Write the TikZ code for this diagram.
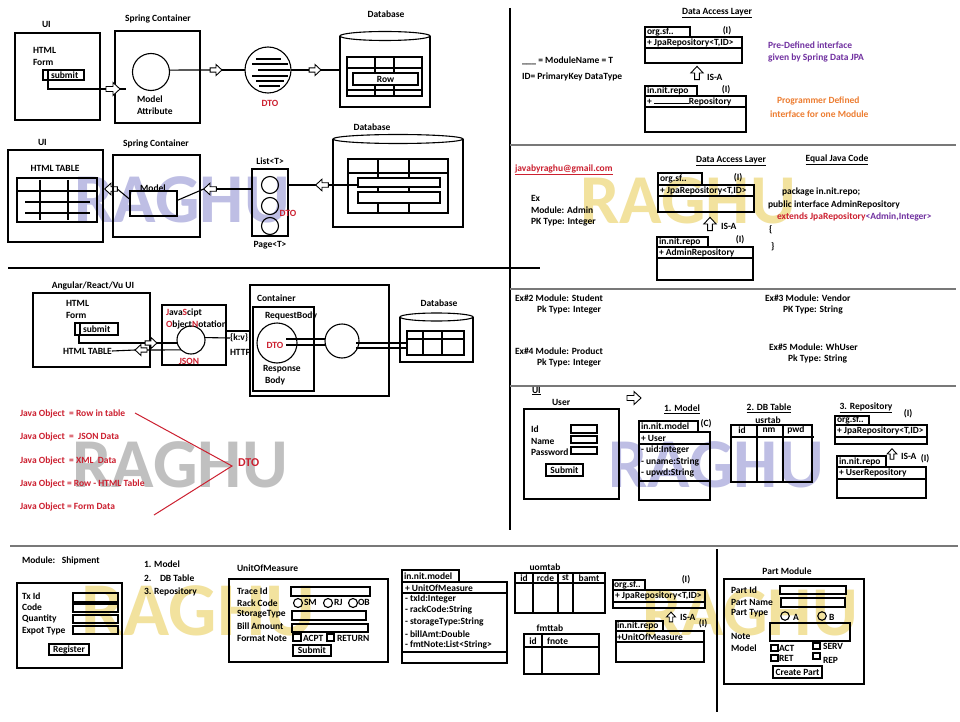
\documentclass[tikz,border=0pt]{standalone}
\usepackage{fontspec}
\setmainfont{Carlito}
\usetikzlibrary{calc}
\definecolor{wmpurple}{RGB}{190,190,228}
\definecolor{wmyellow}{RGB}{242,226,158}
\definecolor{wmgray}{RGB}{192,192,192}
\definecolor{txtred}{RGB}{204,32,48}
\definecolor{txtpurple}{RGB}{112,48,160}
\definecolor{txtorange}{RGB}{237,125,49}
\definecolor{sepgray}{RGB}{120,120,120}
\tikzset{
  every node/.style={font=\bfseries\fontsize{9.5}{11}\selectfont, inner sep=0pt, outer sep=0pt},
  tl/.style={anchor=west},
  tc/.style={anchor=center},
  rtxt/.style={text=txtred},
  wm/.style={font=\bfseries\fontsize{70}{70}\selectfont, anchor=base},
  box/.style={draw, line width=1.1pt},
  ln/.style={line width=1.1pt},
  sepl/.style={draw=sepgray, line width=1.4pt},
  circ/.style={circle, draw, line width=1.1pt, minimum size=#1},
  rnode/.style 2 args={draw, line width=1.1pt, minimum width=#1, minimum height=#2},
  harr/.pic={\draw[line width=0.9pt, fill=white] (-7,-2.5) -- (0,-2.5) -- (0,-6.5) -- (7,0) -- (0,6.5) -- (0,2.5) -- (-7,2.5) -- cycle;},
}
\begin{document}
\begin{tikzpicture}[x=1pt,y=-1pt]
\fill[white] (0,0) rectangle (960,722);
\useasboundingbox (0,0) rectangle (960,722);

% ---------- watermarks ----------
\node[wm, text=wmpurple] (wm1) at (182,222) {RAGHU};
\node[wm, text=wmgray] (wm2) at (180,487) {RAGHU};
\node[wm, text=wmyellow] (wm3) at (688,223) {RAGHU};
\node[wm, text=wmpurple] (wm4) at (716,487) {RAGHU};
\node[wm, text=wmyellow, font=\bfseries\fontsize{76}{76}\selectfont] (wm5) at (198,635) {RAGHU};
\node[wm, text=wmyellow] (wm6) at (750,635) {RAGHU};

% ---------- separators ----------
\draw[ln] (510,8) -- (510,530);
\draw[ln] (8,268) -- (540,268);
\draw[sepl] (510,145) -- (956,145);
\draw[sepl] (510,289) -- (956,289);
\draw[sepl] (510,386) -- (956,386);
\draw[sepl] (10,546) -- (958,546);
\draw[ln] (717,549) -- (717,712);

% ---------- section 1 ----------
\node[tl] (ui1) at (42,24) {UI};
\draw[box] (15,33) rectangle (100,120);
\node[tl] (html1) at (33,50) {HTML};
\node[tl] (form1) at (33,62) {Form};
\draw[box] (43,70) rectangle (84,80);
\draw[ln] (48,70) -- (48,80);
\node[tl] (sub1) at (51,75) {submit};
\node[tc] (sc1) at (158,19) {Spring Container};
\draw[box] (115,31) rectangle (200,123);
\node[circ=37pt] (ma) at (151,72) {};
\node[tl] (mat1) at (137,99) {Model};
\node[tl] (mat2) at (137,111) {Attribute};
\coordinate (a1) at (113,89);
\draw[ln] (48,80) -- (48,89) -- ($(a1)+(-7,0)$);
\pic at (a1) {harr};
\draw[ln] ($(a1)+(7,0)$) -- (126,89);
\node[circ=46pt] (dto1) at (268,70) {};
\coordinate (a2) at (216,70);
\draw[ln] (ma.6) -- ($(a2)+(-6,0)$);
\pic[scale=0.85] at (a2) {harr};
\draw[ln] ($(a2)+(6,0)$) -- (dto1.west);
\draw[ln] (256,59) -- (281,59);
\draw[ln] (252,64) -- (288,64);
\draw[ln] (258,70) -- (290,70);
\draw[ln] (252,76) -- (288,76);
\draw[ln] (256,81) -- (284,81);
\draw[ln] (259,86) -- (280,86);
\node[tc, rtxt] (dtol1) at (270,103) {DTO};
\coordinate (a3) at (315,70);
\coordinate (db1w) at (340,70);
\draw[ln] (dto1.east) -- ($(a3)+(-6,0)$);
\pic[scale=0.85] at (a3) {harr};
\draw[ln] ($(a3)+(6,0)$) -- (db1w);
\node[tc] (dbl1) at (386,14) {Database};
\draw[box] (340,36) -- (340,107) -- (430,107) -- (430,36);
\draw[box] (385,36) ellipse [x radius=45pt, y radius=4.5pt];
\draw[box] (347,57) rectangle (422,96);
\draw[ln] (347,68) -- (422,68);
\draw[ln] (347,90) -- (422,90);
\draw[ln] (375,57) -- (375,96);
\draw[ln] (394,57) -- (394,96);
\node[rnode={65pt}{12pt}, fill=white] (row1b) at (385.5,79) {};
\node[tc] (row1) at (385.5,79) {Row};

% ---------- section 2 ----------
\node[tl] (ui2) at (38,142) {UI};
\draw[box] (8,150) rectangle (103,242);
\node[tc] (ht2) at (55,168) {HTML TABLE};
\draw[box] (17,178) rectangle (97,222);
\draw[ln] (17,191) -- (97,191);
\draw[ln] (25,202) -- (90,202);
\draw[ln] (25,213) -- (90,213);
\draw[ln] (40,180) -- (40,220);
\draw[ln] (68,180) -- (68,220);
\coordinate (a4) at (111,189);
\pic[rotate=180, scale=0.9] at (a4) {harr};
\node[tc] (sc2) at (156,144) {Spring Container};
\draw[box] (113,155) rectangle (200,237);
\node[rnode={47pt}{25pt}] (mdl) at (153.5,203.5) {};
\node[tc] (mdll) at (153,188) {Model};
\draw[ln] ($(mdl.west)+(0,-4)$) -- ($(a4)+(6.3,0)$);
\coordinate (a5) at (210,189);
\draw[ln] ($(mdl.east)+(0,-3)$) -- ($(a5)+(-6.3,0)$);
\pic[rotate=180, scale=0.9] at (a5) {harr};
\node[rnode={36pt}{67pt}] (lst) at (270,202.5) {};
\draw[ln] ($(a5)+(6.3,0)$) -- (lst.west |- a5);
\node[tc] (lstl) at (270,161) {List<T>};
\node[tc] (pgl) at (270,245) {Page<T>};
\node[circ=17pt] (l1) at (270,185) {};
\node[circ=17pt] (l2) at (270,206) {};
\node[circ=17pt] (l3) at (270,226) {};
\node[tc, rtxt] (dto2) at (288,213) {DTO};
\node[tc] (dbl2) at (372,127) {Database};
\draw[box] (333,139) -- (333,227) -- (463,227) -- (463,139);
\draw[box] (398,139) ellipse [x radius=65pt, y radius=4.5pt];
\draw[box] (348,159) rectangle (448,213);
\draw[ln] (348,173) -- (448,173);
\draw[ln] (378,159) -- (378,213);
\draw[ln] (409,159) -- (409,213);
\node[rnode={82pt}{9pt}, fill=white] (rowa) at (399,182.5) {};
\node[rnode={82pt}{11pt}, fill=white] (rowb) at (399,197.5) {};
\coordinate (a6) at (322,185);
\draw[ln] (lst.east |- a6) -- ($(a6)+(-6.3,0)$);
\pic[rotate=180, scale=0.9] at (a6) {harr};
\draw[ln] ($(a6)+(6.3,0)$) -- (rowa.west |- a6);

% ---------- section 3 ----------
\node[tc] (ang) at (93,286) {Angular/React/Vu UI};
\draw[box] (33,293) rectangle (150,367);
\node[tl] (html3) at (66,303) {HTML};
\node[tl] (form3) at (66,315) {Form};
\draw[box] (75,323) rectangle (118,335);
\draw[ln] (80,323) -- (80,335);
\node[tl] (sub3) at (83,329) {submit};
\node[circ=28pt] (json) at (191,340) {};
\coordinate (a7) at (151,343);
\draw[ln] (79,335) -- (79,343) -- ($(a7)+(-6,0)$);
\pic[scale=0.85] at (a7) {harr};
\draw[ln] ($(a7)+(6,0)$) -- (json.west |- a7);
\node[tl] (htt3) at (63,351) {HTML TABLE};
\coordinate (a8) at (141,350);
\draw[ln] (htt3.east) -- ($(a8)+(-6,0)$);
\pic[rotate=180, scale=0.85] at (a8) {harr};
\draw[ln] ($(a8)+(6,0)$) -- (json.225);
\draw[box] (162,305) rectangle (226,365);
\node[tl] (js1) at (166,313) {\textcolor{txtred}{J}ava\textcolor{txtred}{S}cipt};
\node[tl] (js2) at (166,325) {\textcolor{txtred}{O}bject\textcolor{txtred}{N}otation};
\node[tc, rtxt] (jsonl) at (189,361) {JSON};
\node[tl] (kv) at (230,338) {\{k:v\}};
\draw[ln] (json.10) -- (kv.west);
\draw[ln] (227,331) -- (249,331);
\node[tl] (http) at (230,352) {HTTP};
\draw[box] (250,285) rectangle (389,396);
\node[tl] (cont) at (257,298) {Container};
\draw[box] (253,307) rectangle (314,391);
\node[tl] (reqb) at (265,316) {RequestBody};
\node[circ=40pt] (dto3) at (277,343) {};
\node[tc, rtxt] (dto3l) at (275,345) {DTO};
\node[circ=34pt] (c3b) at (342,341) {};
\draw[ln] (286,339) -- ($(c3b.west)+(0,-2)$);
\draw[ln] (286,345) -- ($(c3b.west)+(0.5,4)$);
\node[tl] (resp) at (263,369) {Response};
\node[tl] (body) at (265,381) {Body};
\node[tc] (dbl3) at (439,303) {Database};
\draw[box] (400,317) -- (400,362) -- (473,362) -- (473,317);
\draw[box] (436.5,317) ellipse [x radius=36.5pt, y radius=4pt];
\draw[box] (407,331) rectangle (464,355);
\draw[ln] (407,339) -- (464,339);
\draw[ln] (423,331) -- (423,355);
\draw[ln] (442,331) -- (442,355);
\draw[ln] ($(c3b.east)+(-3,2)$) -- (407,343);
\draw[ln] ($(c3b.east)+(-3,7)$) -- (407,348);

% ---------- section 4 ----------
\node[tl, rtxt] (jo1) at (20,414) {Java Object\ \ = Row in table};
\node[tl, rtxt] (jo2) at (20,437) {Java Object\ \ =\ \ JSON Data};
\node[tl, rtxt] (jo3) at (20,461) {Java Object\ \ = XML\ \ Data};
\node[tl, rtxt] (jo4) at (20,484) {Java Object = Row - HTML Table};
\node[tl, rtxt] (jo5) at (20,507) {Java Object = Form Data};
\coordinate (v1) at (135,413);
\coordinate (v2) at (232,466);
\coordinate (v3) at (154,515);
\draw[txtred, line width=1pt] (v1) -- (v2) -- (v3);
\node[tl, rtxt, font=\bfseries\fontsize{12}{14}\selectfont] (dtobig) at (238,463) {DTO};

% ---------- top right ----------
\node[tl] (mn) at (522,61) {\_\_\_ = ModuleName = T};
\node[tl] (idpk) at (522,77) {ID= PrimaryKey DataType};
\node[tc] (dal1) at (717,13) {\underline{Data Access Layer}};
\draw[box] (645,27) rectangle (690,37);
\node[tl] (orgsf1) at (647,32) {org.sf..};
\draw[box] (645,37) rectangle (742,63);
\draw[ln] (645,48) -- (742,48);
\node[tl] (jpa1) at (647,42.5) {+ JpaRepository<T,ID>};
\node[tc] (i1) at (727,31) {(I)};
\pic[rotate=90, scale=0.95] at (697,73) {harr};
\node[tl] (isa1) at (707,77) {IS-A};
\draw[box] (645,86) rectangle (697,96);
\node[tl] (repo1) at (647,91) {in.nit.repo};
\draw[box] (645,96) rectangle (746,132);
\draw[ln] (645,107) -- (746,107);
\node[tl] (rep1) at (647,101.5) {+ \rule{35pt}{0.6pt}Repository};
\node[tc] (i2) at (726,90) {(I)};
\node[tl, text=txtpurple] (pd1) at (768,45) {Pre-Defined interface};
\node[tl, text=txtpurple] (pd2) at (768,58) {given by Spring Data JPA};
\node[tl, text=txtorange] (pg1) at (777,101) {Programmer Defined};
\node[tl, text=txtorange] (pg2) at (770,114) {interface for one Module};

% ---------- section 5 ----------
\node[tl, rtxt] (mail) at (515,170) {\underline{javabyraghu@gmail.com}};
\node[tl] (ex1) at (531,198) {Ex};
\node[tl] (ex2) at (531,210) {Module: Admin};
\node[tl] (ex3) at (531,222) {PK Type: Integer};
\node[tc] (dal2) at (731,161) {\underline{Data Access Layer}};
\draw[box] (658,173) rectangle (702,185);
\node[tl] (orgsf2) at (660,179) {org.sf..};
\draw[box] (658,185) rectangle (754,212);
\draw[ln] (658,196) -- (754,196);
\node[tl] (jpa2) at (660,190.5) {+ JpaRepository<T,ID>};
\node[tc] (i3) at (738,178) {(I)};
\pic[rotate=90, scale=0.95] at (710,224) {harr};
\node[tl] (isa2) at (721,226) {IS-A};
\draw[box] (657,237) rectangle (708,247);
\node[tl] (repo2) at (659,242) {in.nit.repo};
\draw[box] (657,247) rectangle (753,280);
\draw[ln] (657,258) -- (753,258);
\node[tl] (adm) at (659,252.5) {+ AdminRepository};
\node[tc] (i4) at (740,240) {(I)};
\node[tc] (ejc) at (837,160) {\underline{Equal Java Code}};
\node[tl] (pk1) at (782,192) {package in.nit.repo;};
\node[tl] (pk2) at (768,205) {public interface AdminRepository};
\node[tl] (pk3) at (777,217) {\textcolor{txtred}{extends JpaRepository}\textcolor{txtpurple}{<Admin,Integer>}};
\node[tl] (pk4) at (769,230) {\{};
\node[tl] (pk5) at (771,247) {\}};

% ---------- section 6 ----------
\node[tl] (e2a) at (515,298) {Ex\#2 Module: Student};
\node[tl] (e2b) at (537,310) {Pk Type: Integer};
\node[tl] (e3a) at (765,298) {Ex\#3 Module: Vendor};
\node[tl] (e3b) at (783,310) {PK Type: String};
\node[tl] (e4a) at (515,351) {Ex\#4 Module: Product};
\node[tl] (e4b) at (537,363) {Pk Type: Integer};
\node[tl] (e5a) at (769,347) {Ex\#5 Module: WhUser};
\node[tl] (e5b) at (788,359) {Pk Type: String};

% ---------- section 7 ----------
\node[tl] (ui7) at (532,391) {\underline{UI}};
\node[tl] (user7) at (552,402) {User};
\draw[box] (524,409) rectangle (619,499);
\node[tl] (id7) at (531,429) {Id};
\node[tl] (nm7) at (531,441) {Name};
\node[tl] (pw7) at (531,452) {Password};
\draw[box] (571,425) rectangle (597,433);
\draw[box] (571,436) rectangle (597,443);
\draw[box] (571,447) rectangle (597,454);
\node[rnode={37pt}{12pt}] (subm7) at (564.5,470) {};
\node[tc] (subm7t) at (564.5,470) {Submit};
\pic[scale=1] at (634,398) {harr};
\node[tc] (m7) at (682,409) {\underline{1. Model}};
\draw[box] (639,421) rectangle (698,432);
\node[tl] (inm7) at (641,426.5) {in.nit.model};
\node[tc] (cc7) at (706,424) {(C)};
\draw[box] (639,432) rectangle (710,500);
\draw[ln] (639,444) -- (710,444);
\draw[ln] (639,481) -- (710,481);
\node[tl] (u1) at (641,438) {+ User};
\node[tl] (u2) at (641,450) {- uid:Integer};
\node[tl] (u3) at (641,462) {- uname:String};
\node[tl] (u4) at (641,473) {- upwd:String};
\node[tc] (dbt7) at (769,408) {\underline{2. DB Table}};
\node[tc] (usr7) at (768,420) {usrtab};
\draw[box] (731,425) rectangle (812,482);
\draw[ln] (731,437) -- (814,437);
\draw[ln] (757,425) -- (757,482);
\draw[ln] (783,425) -- (783,482);
\node[tc] (hid) at (742,430) {id};
\node[tc] (hnm) at (769,430) {nm};
\node[tc] (hpw) at (796,430) {pwd};
\node[tc] (rp7) at (866,408) {\underline{3. Repository}};
\node[tc] (i5) at (908,414) {(I)};
\draw[box] (835,416) rectangle (869,425);
\node[tl] (orgsf7) at (837,420.5) {org.sf..};
\draw[box] (835,425) rectangle (927,444);
\draw[ln] (835,437) -- (927,437);
\node[tl] (jpa7) at (837,431) {+ JpaRepository<T,ID>};
\pic[rotate=90, scale=0.75] at (892,454) {harr};
\node[tl] (isa7) at (901,456) {IS-A};
\node[tc] (i6) at (925,459) {(I)};
\draw[box] (837,456) rectangle (886,467);
\node[tl] (repo7) at (839,461.5) {in.nit.repo};
\draw[box] (837,467) rectangle (926,498);
\draw[ln] (837,479) -- (926,479);
\node[tl] (urep) at (839,473) {+ UserRepository};

% ---------- bottom: shipment ----------
\node[tl] (ship) at (22,561) {Module:\ \ \ Shipment};
\draw[box] (17,583) rectangle (122,668);
\node[tl] (tx) at (22,596) {Tx Id};
\node[tl] (code) at (22,607) {Code};
\node[tl] (qty) at (22,619) {Quantity};
\node[tl] (expt) at (22,631) {Expot Type};
\draw[box] (73,593) rectangle (118,602);
\draw[box] (73,604) rectangle (118,612);
\draw[box] (73,615) rectangle (118,623);
\draw[box] (73,626) rectangle (118,634);
\node[rnode={40pt}{11pt}] (reg) at (69,649.5) {};
\node[tc] (regt) at (69,649.5) {Register};
\node[tl] (st1) at (144,564) {1. Model};
\node[tl] (st2) at (144,578) {2.};
\node[tl] (st2b) at (160,578) {DB Table};
\node[tl] (st3) at (144,592) {3. Repository};

% ---------- bottom: UnitOfMeasure form ----------
\node[tl] (uom) at (237,568) {UnitOfMeasure};
\draw[box] (229,579) rectangle (388,662);
\node[tl] (tr) at (237,591) {Trace Id};
\node[tl] (rc) at (237,603) {Rack Code};
\node[tl] (stt) at (237,614) {StorageType};
\node[tl] (ba) at (237,626) {Bill Amount};
\node[tl] (fn) at (237,638) {Format Note};
\draw[box] (291,587) rectangle (370,596);
\draw[box] (292,611) rectangle (366,620);
\draw[box] (292,624) rectangle (368,632);
\node[circ=9pt] (r1) at (298,603) {};
\node[tl] (r1t) at (304,602) {SM};
\node[circ=9pt] (r2) at (328,603) {};
\node[tl] (r2t) at (334,602) {RJ};
\node[circ=9pt] (r3) at (353,603) {};
\node[tl] (r3t) at (358,602) {OB};
\draw[box] (293,634) rectangle (301,641);
\node[tl] (acpt) at (303,638) {ACPT};
\draw[box] (327,634) rectangle (334,641);
\node[tl] (ret) at (337,638) {RETURN};
\node[rnode={38pt}{11pt}] (subu) at (312,650.5) {};
\node[tc] (subut) at (312,650.5) {Submit};

% ---------- bottom: model, tables, repo ----------
\draw[box] (402,570) rectangle (459,582);
\node[tl] (inm8) at (404,576) {in.nit.model};
\draw[box] (402,582) rectangle (507,663);
\draw[ln] (402,593) -- (507,593);
\draw[ln] (402,652) -- (507,652);
\node[tl] (f1) at (405,588) {+ UnitOfMeasure};
\node[tl] (f2) at (405,599) {- txId:Integer};
\node[tl] (f3) at (405,610) {- rackCode:String};
\node[tl] (f4) at (405,622) {- storageType:String};
\node[tl] (f5) at (405,634) {- billAmt:Double};
\node[tl] (f6) at (405,645) {- fmtNote:List<String>};
\node[tc] (uomt) at (545,567) {uomtab};
\draw[box] (515,573) rectangle (605,613);
\draw[ln] (515,583) -- (605,583);
\draw[ln] (533,573) -- (533,613);
\draw[ln] (558,573) -- (558,613);
\draw[ln] (573,573) -- (573,613);
\node[tc] (c1) at (524,578) {id};
\node[tc] (c2) at (545.5,578) {rcde};
\node[tc] (c3) at (565.5,578) {st};
\node[tc] (c4) at (589,578) {bamt};
\node[tc] (fmtt) at (550,628) {fmttab};
\draw[box] (524,634) rectangle (599,674);
\draw[ln] (524,647) -- (599,647);
\draw[ln] (542,634) -- (542,674);
\node[tc] (c5) at (533,641) {id};
\node[tl] (c6) at (547,641) {fnote};
\draw[box] (613,580) rectangle (645,590);
\node[tl] (orgsf8) at (614,585) {org.sf..};
\draw[box] (613,590) rectangle (705,608);
\draw[ln] (613,602) -- (705,602);
\node[tl] (jpa8) at (615,596) {+ JpaRepository<T,ID>};
\node[tc] (i7) at (686,580) {(I)};
\pic[rotate=90, scale=0.7] at (671,617) {harr};
\node[tl] (isa8) at (680,617) {IS-A};
\node[tc] (i8) at (703,624) {(I)};
\draw[box] (616,621) rectangle (663,631);
\node[tl] (repo8) at (617,626) {in.nit.repo};
\draw[box] (616,631) rectangle (704,662);
\draw[ln] (616,642) -- (704,642);
\node[tl] (urep8) at (617,637) {+UnitOfMeasure};

% ---------- bottom: part module ----------
\node[tc] (pm) at (787,571) {Part Module};
\draw[box] (724,579) rectangle (864,684);
\node[tl] (pid) at (731,590) {Part Id};
\node[tl] (pnm) at (731,602) {Part Name};
\node[tl] (ptp) at (731,613) {Part Type};
\node[tl] (pnt) at (731,636) {Note};
\node[tl] (pmd) at (731,648) {Model};
\draw[box] (780,586) rectangle (846,594);
\draw[box] (781,598) rectangle (845,607);
\draw[box] (770,623) rectangle (850,641);
\node[circ=8.5pt] (ra) at (785,616) {};
\node[tl] (rat) at (793,617) {A};
\node[circ=8.5pt] (rb) at (822,616) {};
\node[tl] (rbt) at (829,617) {B};
\draw[box] (771,645) rectangle (778,651);
\node[tl] (act) at (779,648) {ACT};
\draw[box] (771,655) rectangle (778,661);
\node[tl] (rett) at (779,658) {RET};
\draw[box] (813,643) rectangle (820,649);
\node[tl] (serv) at (823,646) {SERV};
\draw[box] (813,653) rectangle (820,659);
\node[tl] (rep) at (823,660) {REP};
\node[rnode={49pt}{12pt}] (cp) at (797.5,672) {};
\node[tc] (cpt) at (797.5,672) {Create Part};
\end{tikzpicture}
\end{document}
